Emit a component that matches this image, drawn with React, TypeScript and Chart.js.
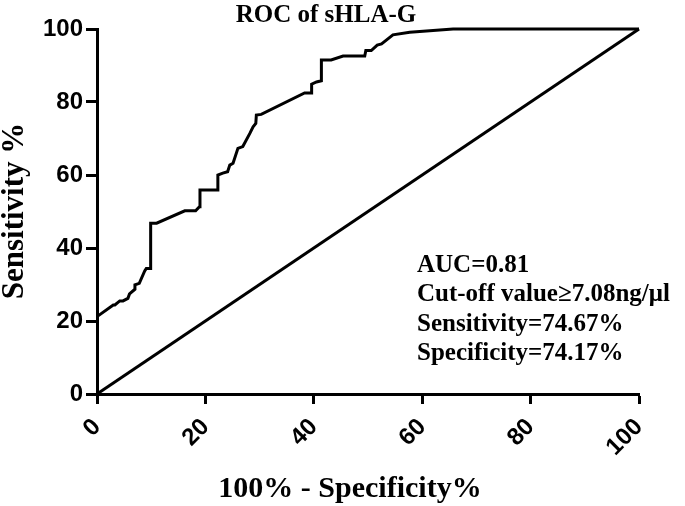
import React, { useEffect, useRef } from "react";
import { Chart, registerables } from "chart.js";

Chart.register(...registerables);

// ROC curve: 100% - Specificity% (x) vs Sensitivity % (y)
const rocX = [
  0, 3.0, 3.3, 4.2, 4.8, 5.7, 6.0, 7.0, 7.0, 7.8, 8.8, 9.1, 9.9, 9.9, 11.0, 16.2, 18.2, 18.9, 19.0,
  22.3, 22.3, 23.2, 24.1, 24.5, 25.1, 26.0, 26.9, 28.2, 28.8, 29.3, 29.4, 30.3, 38.3, 39.6, 39.6,
  40.5, 41.4, 41.4, 43.2, 45.4, 49.4, 49.6, 50.6, 51.7, 52.5, 54.6, 57.7, 65.7, 100,
];
const rocY = [
  21.2, 24.4, 24.4, 25.5, 25.5, 26.2, 27.4, 28.7, 29.9, 30.3, 33.7, 34.4, 34.4, 46.8, 46.8, 50.2, 50.2,
  51.3, 55.9, 55.9, 60.0, 60.5, 60.9, 62.7, 63.2, 67.3, 67.8, 71.4, 73.2, 74.1, 76.4, 76.6, 82.5, 82.5,
  84.9, 85.5, 85.8, 91.5, 91.5, 92.6, 92.6, 94.1, 94.1, 95.6, 95.9, 98.4, 99.1, 100, 100,
];
// Reference (chance) line
const refX = [0, 100];
const refY = [0, 100];

const axisMin = 0;
const axisMax = 100;
const tickStep = 20;

const chartTitle = "ROC of sHLA-G";
const xTitle = "100% - Specificity%";
const yTitle = "Sensitivity %";
const notes = ["AUC=0.81", "Cut-off value\u22657.08ng/\u03bcl", "Sensitivity=74.67%", "Specificity=74.17%"];

const serif = "'Liberation Serif', 'Times New Roman', serif";
const sans = "'Liberation Sans', Arial, sans-serif";

const textPlugin = {
  id: "texts",
  afterDraw(chart: any) {
    const ctx = chart.ctx;
    ctx.save();
    ctx.fillStyle = "#000";
    // title
    ctx.font = `bold 25px ${serif}`;
    ctx.textAlign = "center";
    ctx.textBaseline = "alphabetic";
    ctx.fillText(chartTitle, 326, 22);
    // x title
    ctx.font = `bold 30px ${serif}`;
    ctx.fillText(xTitle, 350, 497);
    // y title
    ctx.save();
    ctx.font = `bold 31px ${serif}`;
    ctx.translate(15, 211);
    ctx.rotate(-Math.PI / 2);
    ctx.textBaseline = "middle";
    ctx.fillText(yTitle, 0, 0);
    ctx.restore();
    // annotation
    ctx.font = `bold 25px ${serif}`;
    ctx.textAlign = "left";
    notes.forEach((t, i) => ctx.fillText(t, 417, 272 + i * 29.3));
    ctx.restore();
  },
};

export default function App() {
  const ref = useRef<HTMLCanvasElement>(null);
  useEffect(() => {
    if (!ref.current) return;
    const axisCommon = {
      type: "linear" as const,
      min: axisMin,
      max: axisMax,
      grid: {
        display: true,
        drawOnChartArea: false,
        drawTicks: true,
        tickWidth: 3,
        tickColor: "#000",
      },
      border: { display: true, width: 3, color: "#000" },
    };
    const chart = new Chart(ref.current, {
      type: "scatter",
      data: {
        datasets: [
          {
            data: rocX.map((x, i) => ({ x, y: rocY[i] })),
            showLine: true,
            borderColor: "#000",
            borderWidth: 3,
            pointRadius: 0,
            tension: 0,
            clip: 6,
          },
          {
            data: refX.map((x, i) => ({ x, y: refY[i] })),
            showLine: true,
            borderColor: "#000",
            borderWidth: 3,
            pointRadius: 0,
            tension: 0,
            clip: 6,
          },
        ],
      },
      options: {
        responsive: false,
        animation: false,
        devicePixelRatio: 1,
        layout: { padding: { left: 0, top: 29, right: 46, bottom: 0 } },
        plugins: { legend: { display: false }, tooltip: { enabled: false }, title: { display: false } },
        scales: {
          x: {
            ...axisCommon,
            grid: { ...axisCommon.grid, tickLength: 10 },
            ticks: {
              stepSize: tickStep,
              minRotation: 45,
              maxRotation: 45,
              autoSkip: false,
              padding: 9,
              color: "#000",
              font: { family: sans, weight: "bold", size: 24 },
            },
            afterFit: (s: any) => {
              s.height = 112;
            },
          },
          y: {
            ...axisCommon,
            grid: { ...axisCommon.grid, tickLength: 11 },
            ticks: {
              stepSize: tickStep,
              autoSkip: false,
              padding: 3,
              color: "#000",
              font: { family: sans, weight: "bold", size: 24 },
            },
            afterFit: (s: any) => {
              s.width = 97;
            },
          },
        },
      },
      plugins: [textPlugin],
    } as any);
    return () => chart.destroy();
  }, []);
  return (
    <div style={{ position: "absolute", left: 0, top: 0, width: 685, height: 506, background: "#fff" }}>
      <canvas ref={ref} width={685} height={506} style={{ width: 685, height: 506 }} />
    </div>
  );
}
